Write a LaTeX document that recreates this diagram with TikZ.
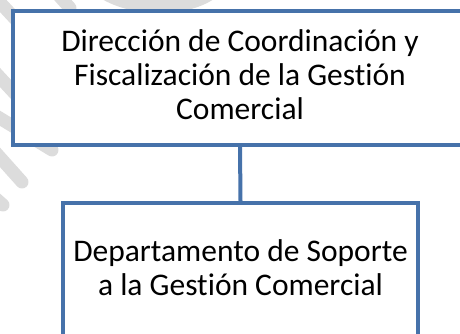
\documentclass[tikz,border=0pt]{standalone}
\usepackage{fontspec}
\setmainfont{Carlito}[Ligatures=NoCommon]
\definecolor{boxblue}{HTML}{4672AA}
\definecolor{wm}{HTML}{DCDCDC}
\begin{document}
\begin{tikzpicture}[x=1pt,y=-1pt,
  orgbox/.style={draw=boxblue,line width=4pt,fill=white,rectangle,inner sep=0pt},
  orgtext/.style={align=center,font=\fontsize{31.5}{34}\selectfont,inner sep=0pt},
  link/.style={draw=boxblue,line width=4pt},
  wmstroke/.style={draw=wm,line width=13pt,line cap=round}]
\useasboundingbox (0,0) rectangle (460,333);
\clip (0,0) rectangle (460,333);
% watermark strokes
\draw[wmstroke] (-30,-30) -- (30,35);
\draw[wmstroke] (-30,45) -- (30,110);
\draw[wmstroke] (-30,100) -- (52,150);
\draw[wmstroke] (-20,135) -- (22,182);
\draw[wmstroke] (-25,180) -- (3,205);
\draw[wmstroke] (45,-20) -- (70,8);
\draw[wmstroke] (100,-10) .. controls (130,12) and (190,12) .. (215,-10);
% boxes
\node[orgbox,minimum width=454pt,minimum height=134pt] (top) at (240,78) {};
\node[orgtext] (toptxt) at (240,75)
  {Dirección de Coordinación y\\Fiscalización de la Gestión\\Comercial};
\node[orgbox,minimum width=355pt,minimum height=144pt,anchor=north] (bot) at (240.5,201) {};
\node[orgtext] (bottxt) at (240.5,268)
  {Departamento de Soporte\\a la Gestión Comercial};
\draw[link] (top.south) -- (bot.north);
\end{tikzpicture}
\end{document}
